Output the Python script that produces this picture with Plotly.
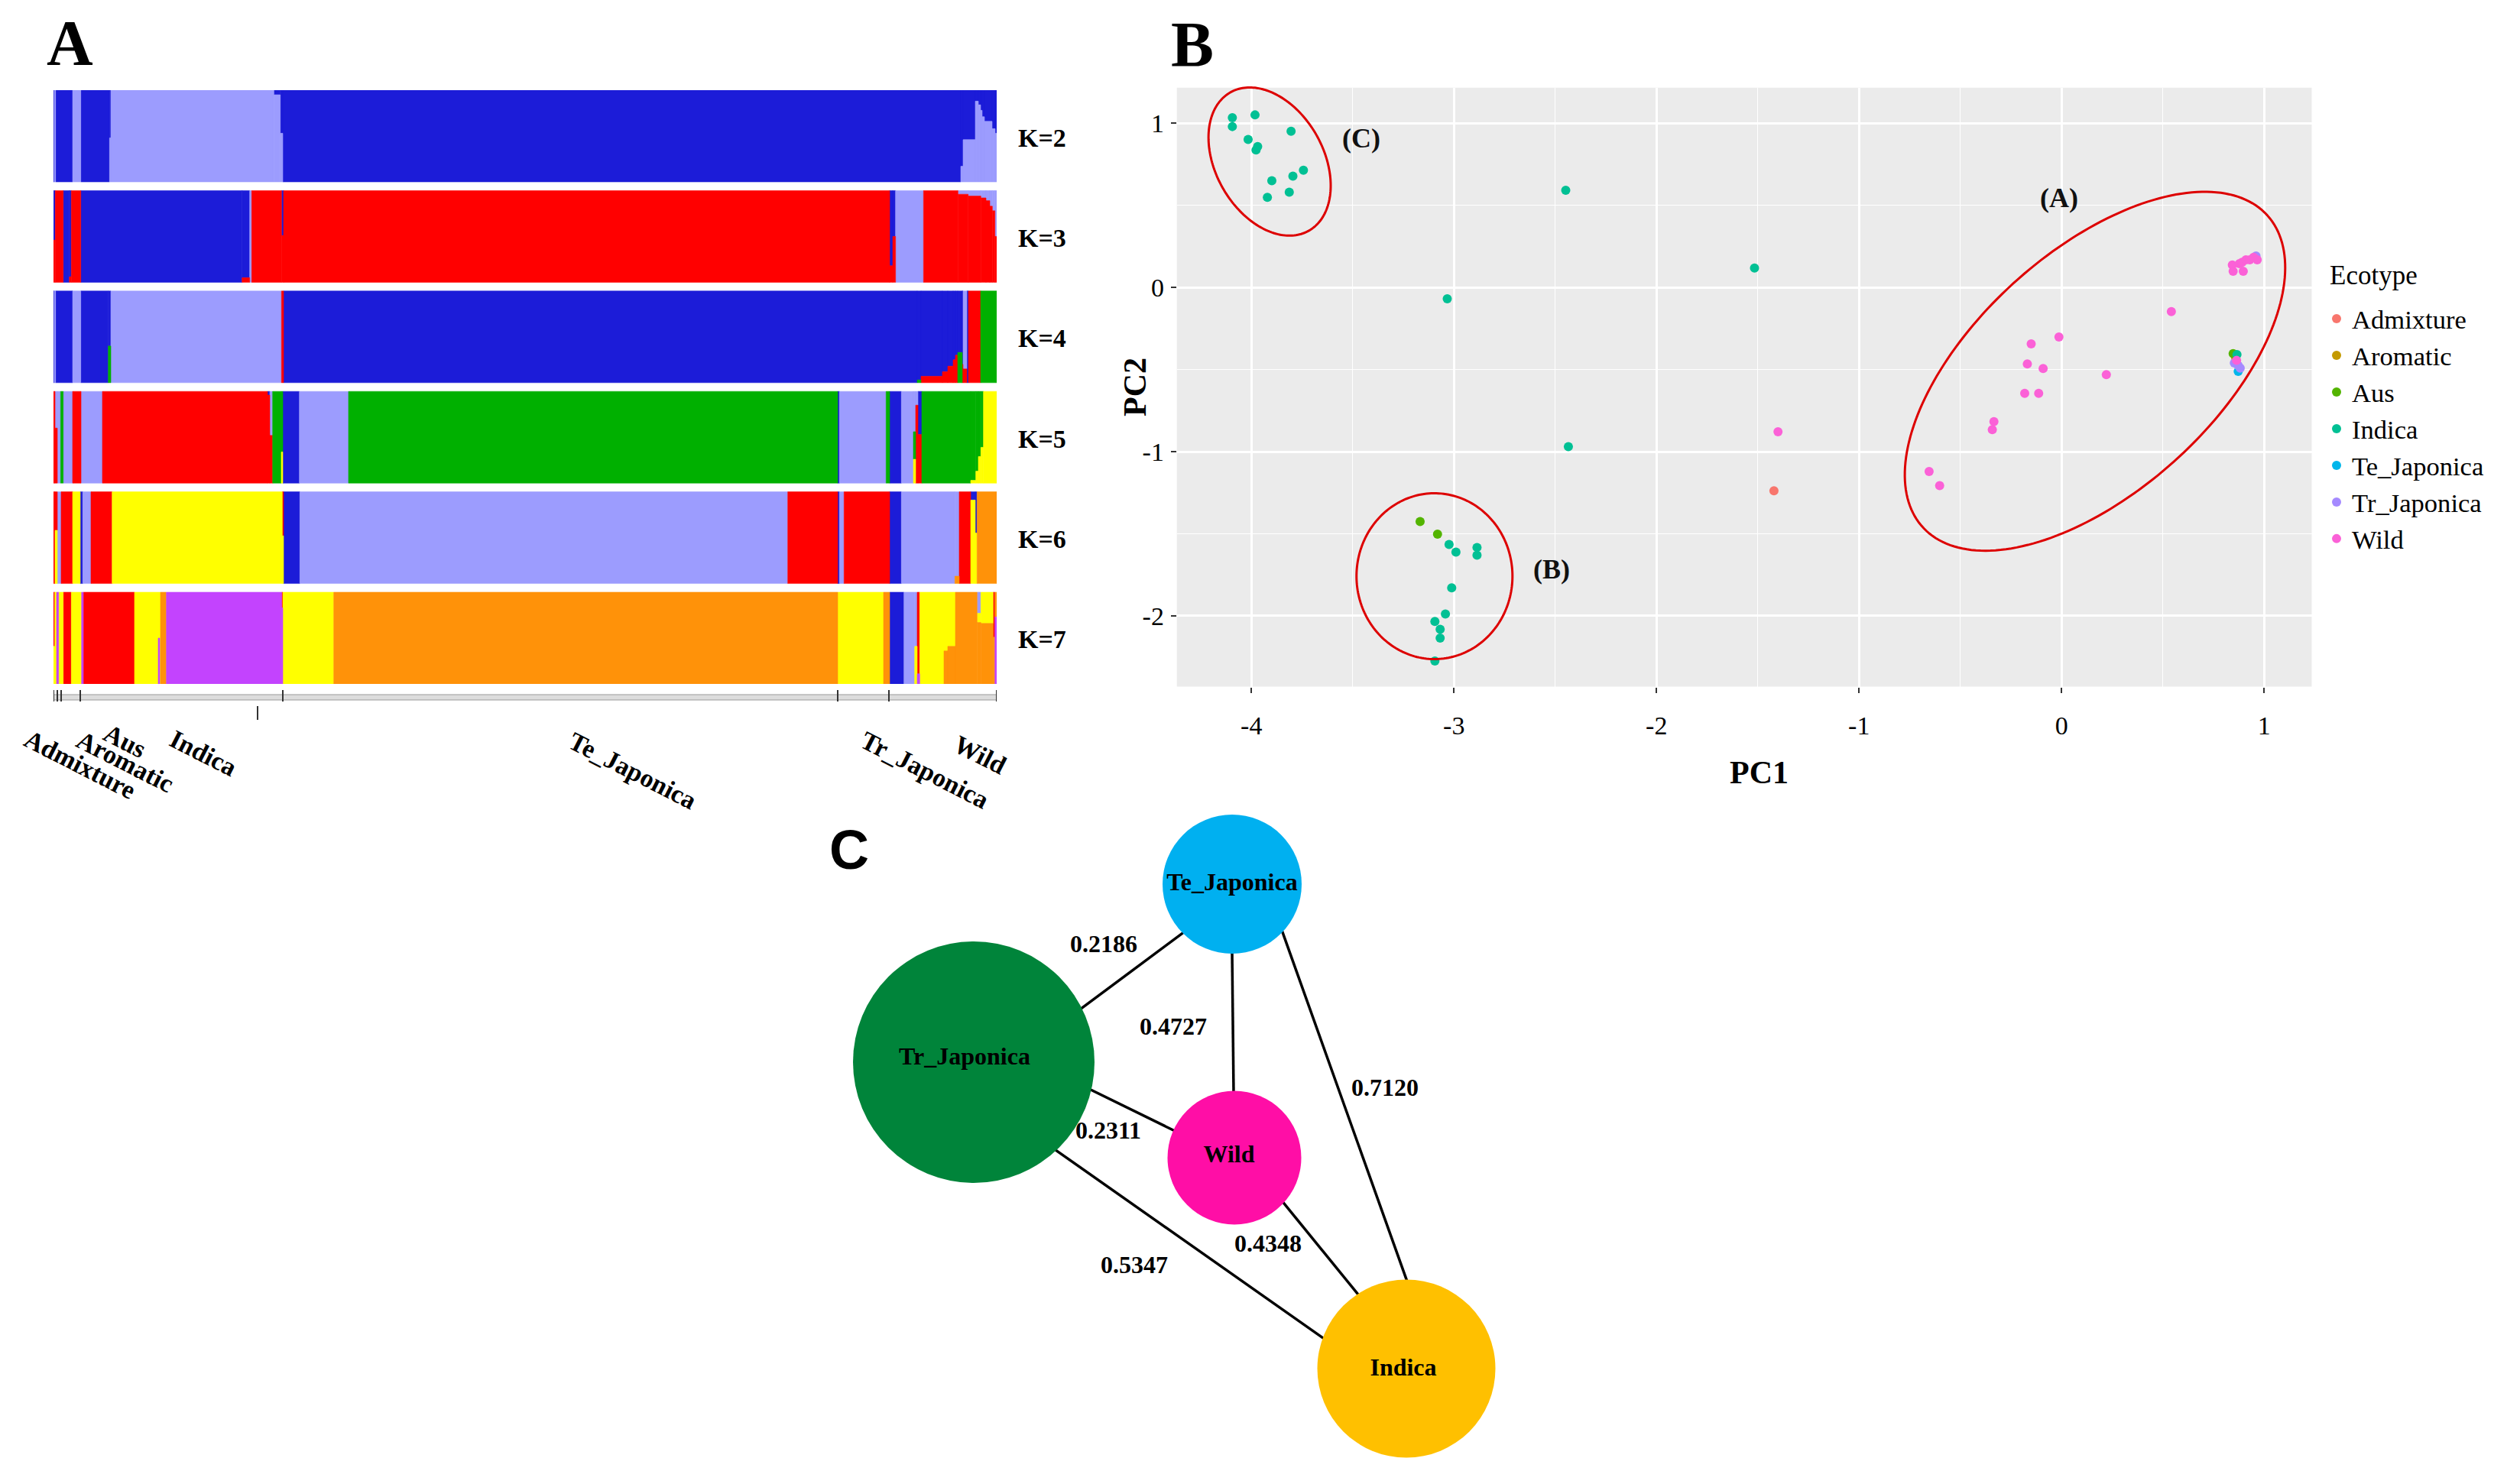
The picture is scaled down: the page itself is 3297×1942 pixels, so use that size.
import numpy as np
import plotly.graph_objects as go

W, H = 3297, 1942
SERIF = "Liberation Serif"
SANS = "Liberation Sans"


def px(x):
    return x / W


def py(y):
    return 1 - y / H


# ---------------- Panel A : ancestry proportions (STRUCTURE) ----------------
ANC_COLORS = {"B": "#1C1CD8", "L": "#9C9CFE", "R": "#FF0000", "G": "#00B000",
              "Y": "#FFFF00", "O": "#FF9209", "P": "#C343FE"}
K_LABELS = ["K=2", "K=3", "K=4", "K=5", "K=6", "K=7"]
GROUP_NAMES = ["Admixture", "Aromatic", "Aus", "Indica", "Te_Japonica", "Tr_Japonica", "Wild"]
GROUP_BOUNDS = [0, 5, 10, 35, 300, 1026, 1093, 1234]   # sample-order positions
EXTRA_TICK = [267]

# segments: (start, end, ((ancestry, proportion) top -> bottom))
ROW_K2 = [
    (0, 1, (("B", 1),)), (1, 2.7, (("L", 1),)), (2.7, 25, (("B", 1),)),
    (25, 35.7, (("L", 1),)), (35.7, 73.3, (("B", 1),)), (73.3, 75, (("B", .52), ("L", .48))),
    (75, 288.3, (("L", 1),)), (288.3, 296.7, (("B", .05), ("L", .95))),
    (296.7, 300, (("B", .47), ("L", .53))), (300, 1187, (("B", 1),)),
    (1187, 1190, (("B", .83), ("L", .17))), (1190, 1206, (("B", .54), ("L", .46))),
    (1206, 1210, (("B", .12), ("L", .88))), (1210, 1213, (("B", .16), ("L", .84))),
    (1213, 1215, (("B", .22), ("L", .78))), (1215, 1218, (("B", .29), ("L", .71))),
    (1218, 1228, (("B", .34), ("L", .66))), (1228, 1232, (("B", .42), ("L", .58))),
    (1232, 1234, (("B", .47), ("L", .53))),
]
ROW_K3 = [
    (0, 2.3, (("B", .54), ("R", .46))), (2.3, 12.7, (("R", 1),)), (12.7, 20.7, (("B", 1),)),
    (20.7, 23.3, (("B", .94), ("R", .06))), (23.3, 35.7, (("R", 1),)),
    (35.7, 246.7, (("B", 1),)), (246.7, 256.7, (("B", .95), ("R", .05))),
    (256.7, 259.3, (("L", 1),)), (259.3, 298.3, (("R", 1),)),
    (298.3, 301, (("B", .49), ("R", .51))), (301, 1094, (("R", 1),)),
    (1094, 1098, (("B", .82), ("R", .18))), (1098, 1101.7, (("B", .5), ("R", .5))),
    (1101.7, 1138.3, (("L", 1),)), (1138.3, 1183.3, (("R", 1),)),
    (1183.3, 1196.7, (("L", .04), ("R", .96))), (1196.7, 1213.3, (("L", .06), ("R", .94))),
    (1213.3, 1220, (("L", .08), ("R", .92))), (1220, 1225, (("L", .11), ("R", .89))),
    (1225, 1228.3, (("L", .17), ("R", .83))), (1228.3, 1231.7, (("L", .22), ("R", .78))),
    (1231.7, 1234, (("L", .5), ("R", .5))),
]
ROW_K4 = [
    (0, 1, (("B", 1),)), (1, 2.7, (("L", 1),)), (2.7, 25, (("B", 1),)),
    (25, 35.7, (("L", 1),)), (35.7, 71.7, (("B", 1),)), (71.7, 75, (("B", .6), ("G", .4))),
    (75, 298.3, (("L", 1),)), (298.3, 301, (("R", 1),)), (301, 1130, (("B", 1),)),
    (1130, 1135, (("B", .97), ("G", .03))), (1135, 1163, (("B", .93), ("R", .07))),
    (1163, 1170, (("B", .88), ("R", .12))), (1170, 1177, (("B", .82), ("R", .18))),
    (1177, 1180, (("B", .75), ("R", .25))), (1180, 1183, (("B", .7), ("R", .3))),
    (1183, 1189, (("B", .67), ("G", .33))), (1189, 1190, (("B", .8), ("R", .2))),
    (1190, 1195, (("L", .85), ("R", .15))), (1195, 1197, (("B", 1),)),
    (1197, 1213, (("R", 1),)), (1213, 1234, (("G", 1),)),
]
ROW_K5 = [
    (0, 2, (("R", 1),)), (2, 5, (("L", .4), ("R", .6))), (5, 9.3, (("L", 1),)),
    (9.3, 12.7, (("G", 1),)), (12.7, 25, (("L", 1),)), (25, 36, (("R", 1),)),
    (36, 64, (("L", 1),)), (64, 280, (("R", 1),)), (280, 283, (("B", .04), ("R", .96))),
    (283, 286.7, (("L", .48), ("R", .52))), (286.7, 298, (("G", 1),)),
    (298, 300, (("G", .66), ("Y", .34))), (300, 321.7, (("B", 1),)),
    (321.7, 386, (("L", 1),)), (386, 1026, (("G", 1),)), (1026, 1028.3, (("B", 1),)),
    (1028.3, 1089.3, (("L", 1),)), (1089.3, 1094, (("G", 1),)), (1094, 1109.3, (("B", 1),)),
    (1109.3, 1125, (("L", 1),)), (1125, 1128, (("L", .44), ("G", .3), ("Y", .26))),
    (1128, 1131, (("L", .15), ("R", .85))), (1131, 1136, (("B", .47), ("R", .53))),
    (1136, 1200, (("G", 1),)), (1200, 1206.7, (("G", .97), ("Y", .03))),
    (1206.7, 1210, (("G", .87), ("Y", .13))), (1210, 1213.3, (("G", .71), ("Y", .29))),
    (1213.3, 1216.7, (("G", .61), ("Y", .39))), (1216.7, 1234, (("Y", 1),)),
]
ROW_K6 = [
    (0, 2, (("R", 1),)), (2, 5, (("R", .42), ("Y", .58))), (5, 10, (("L", 1),)),
    (10, 25, (("R", 1),)), (25, 35, (("Y", 1),)), (35, 38.3, (("B", 1),)),
    (38.3, 49, (("L", 1),)), (49, 76.7, (("R", 1),)), (76.7, 299.3, (("Y", 1),)),
    (299.3, 301, (("R", .48), ("Y", .52))), (301, 322.3, (("B", 1),)),
    (322.3, 960.7, (("L", 1),)), (960.7, 1026, (("R", 1),)), (1026, 1028.3, (("B", 1),)),
    (1028.3, 1034.3, (("L", 1),)), (1034.3, 1094, (("R", 1),)), (1094, 1109.3, (("B", 1),)),
    (1109.3, 1179.3, (("L", 1),)), (1179.3, 1185, (("L", .92), ("O", .08))),
    (1185, 1200, (("R", 1),)), (1200, 1206, (("B", .09), ("Y", .91))),
    (1206, 1208.3, (("B", .45), ("Y", .55))), (1208.3, 1234, (("O", 1),)),
]
ROW_K7 = [
    (0, 1.7, (("R", .59), ("Y", .41))), (1.7, 4, (("Y", 1),)), (4, 6.7, (("P", 1),)),
    (6.7, 12.7, (("Y", 1),)), (12.7, 23.3, (("R", 1),)), (23.3, 36.7, (("Y", 1),)),
    (36.7, 39, (("P", 1),)), (39, 106, (("R", 1),)), (106, 137, (("Y", 1),)),
    (137, 139, (("Y", .5), ("P", .5))), (139, 140, (("Y", 1),)), (140, 147.7, (("O", 1),)),
    (147.7, 298.5, (("P", 1),)), (298.5, 300, (("R", .17), ("P", .83))),
    (300, 366.7, (("Y", 1),)), (366.7, 1026, (("O", 1),)), (1026, 1086, (("Y", 1),)),
    (1086, 1094, (("O", 1),)), (1094, 1112.7, (("B", 1),)), (1112.7, 1126.7, (("L", 1),)),
    (1126.7, 1130, (("L", .59), ("Y", .41))), (1130, 1133.3, (("R", .89), ("P", .11))),
    (1133.3, 1165, (("Y", 1),)), (1165, 1170, (("Y", .64), ("O", .36))),
    (1170, 1180, (("Y", .59), ("O", .41))), (1180, 1208.3, (("O", 1),)),
    (1208.3, 1213.3, (("L", .23), ("Y", .1), ("O", .67))),
    (1213.3, 1229.3, (("Y", .34), ("O", .66))), (1229.3, 1231.7, (("R", .49), ("O", .51))),
    (1231.7, 1234, (("O", .27), ("P", .73))),
]
STRUCTURE_ROWS = [ROW_K2, ROW_K3, ROW_K4, ROW_K5, ROW_K6, ROW_K7]

# ---------------- Panel B : PCA ----------------
ECOTYPES = ["Admixture", "Aromatic", "Aus", "Indica", "Te_Japonica", "Tr_Japonica", "Wild"]
ECO_COLORS = ["#F8766D", "#C49A00", "#53B400", "#00C094", "#00B6EB", "#A58AFF", "#FB61D7"]
PC1 = {
    "Admixture": [-1.42],
    "Aromatic": [0.86],
    "Aus": [-3.167, -3.081, 0.847],
    "Indica": [-4.094, -4.094, -3.982, -3.804, -4.016, -3.969, -3.977, -3.743, -3.795,
               -3.899, -3.813, -3.921, -2.448, -1.516, -3.033, -2.435, -3.024, -2.99,
               -2.886, -2.886, -3.011, -3.042, -3.094, -3.068, -3.068, -3.094, 0.866],
    "Te_Japonica": [0.872],
    "Tr_Japonica": [0.853, 0.872, 0.882, 0.96],
    "Wild": [0.843, 0.847, 0.878, 0.891, 0.897, 0.910, 0.929, 0.948, 0.966, 0.542,
             -0.013, -0.15, -0.169, -0.091, 0.221, -0.182, -0.113, -0.334, -0.342,
             -1.40, -0.654, -0.602, 0.864],
}
PC2 = {
    "Admixture": [-1.238],
    "Aromatic": [-0.43],
    "Aus": [-1.425, -1.502, -0.403],
    "Indica": [1.034, 0.98, 1.051, 0.951, 0.902, 0.858, 0.837, 0.714, 0.678,
               0.65, 0.58, 0.549, 0.592, 0.118, -0.069, -0.969, -1.565, -1.611,
               -1.583, -1.63, -1.829, -1.988, -2.034, -2.081, -2.135, -2.275, -0.409],
    "Te_Japonica": [-0.511],
    "Tr_Japonica": [-0.46, -0.475, -0.491, 0.192],
    "Wild": [0.137, 0.099, 0.145, 0.153, 0.099, 0.168, 0.168, 0.184, 0.168, -0.147,
             -0.302, -0.343, -0.466, -0.493, -0.531, -0.645, -0.645, -0.817, -0.866,
             -0.879, -1.121, -1.207, -0.444],
}
PCA_XTICKS = [-4, -3, -2, -1, 0, 1]
PCA_YTICKS = [-2, -1, 0, 1]
# cluster ellipses: label, centre, two conjugate semi-axis vectors (PC units), label position
CLUSTER_NAMES = ["(A)", "(B)", "(C)"]
CLUSTER_CENTER = [(0.165, -0.51), (-3.096, -1.758), (-3.91, 0.767)]
CLUSTER_U = [(0.851, 0.949), (0.385, 0.0), (0.194, -0.421)]
CLUSTER_V = [(-0.397, 0.542), (0.0, 0.505), (0.231, 0.162)]
CLUSTER_LABEL_POS = [(-0.013, 0.547), (-2.517, -1.715), (-3.458, 0.907)]

# ---------------- Panel C : Fst network ----------------
NODE_NAMES = ["Te_Japonica", "Tr_Japonica", "Wild", "Indica"]
NODE_COLORS = ["#00B0F0", "#00843A", "#FF0EA6", "#FFC000"]
NODE_X = [1612, 1274, 1615, 1840]
NODE_Y = [1157, 1390, 1515, 1791]
NODE_DIAM = [182, 316, 175, 233]
NODE_LABEL_X = [1612, 1262, 1608, 1836]
NODE_LABEL_Y = [1157, 1385, 1513, 1792]
EDGE_FST = ["0.2186", "0.4727", "0.7120", "0.2311", "0.5347", "0.4348"]
EDGE_X0 = [1546, 1612, 1678, 1425, 1384, 1680]
EDGE_Y0 = [1222, 1246, 1220, 1425, 1507, 1575]
EDGE_X1 = [1413, 1614, 1840, 1533, 1731, 1777]
EDGE_Y1 = [1321, 1430, 1674, 1478, 1751, 1694]
EDGE_LABEL_X = [1444, 1535, 1812, 1450, 1484, 1659]
EDGE_LABEL_Y = [1238, 1346, 1426, 1482, 1658, 1630]

# ================= geometry of the page =================
A_X0, A_X1, A_Y0, A_Y1 = 70, 1304, 118, 895
ROW_PITCH = 1.095
B_X0, B_X1, B_Y0, B_Y1 = 1539.7, 3024.5, 114.7, 898.6
B_XR, B_YR = [-4.368, 1.235], [-2.431, 1.217]
C_X0, C_X1, C_Y0, C_Y1 = 1000, 2100, 1050, 1942

fig = go.Figure()

# ---- Panel A bars ----
for r, segs in enumerate(STRUCTURE_ROWS):
    top = r * ROW_PITCH
    acc = {k: {"x": [], "w": [], "b": [], "h": []} for k in ANC_COLORS}
    for (s, e, comp) in segs:
        cum = 0.0
        for k, f in comp:
            acc[k]["x"].append((s + e) / 2)
            acc[k]["w"].append(e - s)
            acc[k]["b"].append(top + cum)
            acc[k]["h"].append(f)
            cum += f
    for k, d in acc.items():
        if not d["x"]:
            continue
        fig.add_trace(go.Bar(x=d["x"], y=d["h"], base=d["b"], width=d["w"],
                             marker=dict(color=ANC_COLORS[k], line=dict(color=ANC_COLORS[k], width=0.6)),
                             showlegend=False, hoverinfo="skip", xaxis="x", yaxis="y"))

# ---- Panel B points ----
for name, col in zip(ECOTYPES, ECO_COLORS):
    fig.add_trace(go.Scatter(x=PC1[name], y=PC2[name], mode="markers", name=name,
                             marker=dict(size=12, color=col, line=dict(width=0)),
                             xaxis="x2", yaxis="y2", hoverinfo="skip"))

# ---- Panel C network ----
ex, ey = [], []
for x0, y0, x1, y1 in zip(EDGE_X0, EDGE_Y0, EDGE_X1, EDGE_Y1):
    d = np.hypot(x1 - x0, y1 - y0)
    ux, uy = (x1 - x0) / d, (y1 - y0) / d
    ex += [x0 - 12 * ux, x1 + 12 * ux, None]
    ey += [y0 - 12 * uy, y1 + 12 * uy, None]
fig.add_trace(go.Scatter(x=ex, y=ey, mode="lines", line=dict(color="black", width=3.5),
                         showlegend=False, hoverinfo="skip", xaxis="x3", yaxis="y3"))
fig.add_trace(go.Scatter(x=NODE_X, y=NODE_Y, mode="markers",
                         marker=dict(size=NODE_DIAM, color=NODE_COLORS, line=dict(width=0), opacity=1),
                         showlegend=False, hoverinfo="skip", xaxis="x3", yaxis="y3"))
fig.add_trace(go.Scatter(x=NODE_LABEL_X, y=NODE_LABEL_Y, mode="text", text=NODE_NAMES,
                         textposition="middle center",
                         textfont=dict(family=SERIF, size=32, color="black", weight="bold"),
                         showlegend=False, hoverinfo="skip", xaxis="x3", yaxis="y3"))
fig.add_trace(go.Scatter(x=EDGE_LABEL_X, y=EDGE_LABEL_Y, mode="text", text=EDGE_FST,
                         textfont=dict(family=SERIF, size=32, color="black", weight="bold"),
                         showlegend=False, hoverinfo="skip", xaxis="x3", yaxis="y3"))

shapes = []
annotations = []


def note(x, y, text, size, family=SERIF, bold=True, angle=0, xanchor="center", color="black"):
    annotations.append(dict(x=px(x), y=py(y), xref="paper", yref="paper", text=text,
                            showarrow=False, textangle=angle, xanchor=xanchor, yanchor="middle",
                            font=dict(family=family, size=size, color=color,
                                      weight="bold" if bold else "normal")))


# PCA panel background
shapes.append(dict(type="rect", xref="x2 domain", yref="y2 domain", x0=0, x1=1, y0=0, y1=1,
                   fillcolor="#EBEBEB", line=dict(width=0), layer="below"))


def pca_to_paper(x, y):
    fx = B_X0 + (x - B_XR[0]) / (B_XR[1] - B_XR[0]) * (B_X1 - B_X0)
    fy = B_Y1 - (y - B_YR[0]) / (B_YR[1] - B_YR[0]) * (B_Y1 - B_Y0)
    return px(fx), py(fy)


t = np.linspace(0, 2 * np.pi, 200)
for (cx, cy), (ux, uy), (vx, vy) in zip(CLUSTER_CENTER, CLUSTER_U, CLUSTER_V):
    xs = cx + ux * np.cos(t) + vx * np.sin(t)
    ys = cy + uy * np.cos(t) + vy * np.sin(t)
    pts = [pca_to_paper(a, b) for a, b in zip(xs, ys)]
    path = "M " + " L ".join(f"{a:.6f},{b:.6f}" for a, b in pts) + " Z"
    shapes.append(dict(type="path", xref="paper", yref="paper", path=path,
                       line=dict(color="#DD0000", width=3), layer="above"))
for name, (lx, ly) in zip(CLUSTER_NAMES, CLUSTER_LABEL_POS):
    annotations.append(dict(x=lx, y=ly, xref="x2", yref="y2", text=name, showarrow=False,
                            xanchor="center", yanchor="middle",
                            font=dict(family=SERIF, size=36, color="#111111", weight="bold")))

# Panel A group axis
shapes.append(dict(type="rect", xref="x", yref="paper", x0=GROUP_BOUNDS[0], x1=GROUP_BOUNDS[-1],
                   y0=py(916), y1=py(909), fillcolor="#DCDCDC", line=dict(color="#9A9A9A", width=1.2)))
for b in GROUP_BOUNDS:
    shapes.append(dict(type="line", xref="x", yref="paper", x0=b, x1=b, y0=py(903), y1=py(918),
                       line=dict(color="#333333", width=2)))
for b in EXTRA_TICK:
    shapes.append(dict(type="line", xref="x", yref="paper", x0=b, x1=b, y0=py(924), y1=py(942),
                       line=dict(color="#333333", width=2)))

GROUP_LABEL_XY = [(105, 1000), (163, 997), (163, 970), (266, 985), (828, 1008), (1210, 1007), (1282, 987)]
for name, (gx, gy) in zip(GROUP_NAMES, GROUP_LABEL_XY):
    note(gx, gy, name, 34, angle=27)

for r, lab in enumerate(K_LABELS):
    yc = A_Y0 + (r * ROW_PITCH + 0.5) * (A_Y1 - A_Y0) / (5 * ROW_PITCH + 1) + 2
    note(1330, yc, lab, 34, xanchor="left")

# panel letters
note(91, 57, "A", 84)
note(1560, 58, "B", 84)
note(1111, 1112, "C", 72, family=SANS)

# PCA axis titles and legend title
note(2301, 1011, "PC1", 42)
note(1485, 507, "PC2", 42, angle=-90)
note(3046, 360, "Ecotype", 35, bold=False, xanchor="left")

tickfont = dict(family=SERIF, size=34, color="black")
fig.update_layout(
    width=W, height=H, autosize=False, margin=dict(l=0, r=0, t=0, b=0),
    paper_bgcolor="white", plot_bgcolor="white", barmode="overlay", hovermode=False,
    xaxis=dict(domain=[px(A_X0), px(A_X1)], range=[0, GROUP_BOUNDS[-1]], visible=False,
               anchor="y", fixedrange=True),
    yaxis=dict(domain=[py(A_Y1), py(A_Y0)], range=[5 * ROW_PITCH + 1, 0], visible=False,
               anchor="x", fixedrange=True),
    xaxis2=dict(domain=[px(B_X0), px(B_X1)], range=B_XR, anchor="y2",
                tickmode="array", tickvals=PCA_XTICKS, ticktext=[str(v) for v in PCA_XTICKS],
                showgrid=True, gridcolor="white", gridwidth=2.6, zeroline=False, showline=False,
                ticks="outside", ticklen=7, tickwidth=2, tickcolor="#333333",
                tickfont=tickfont, ticklabelstandoff=14,
                minor=dict(tickmode="linear", tick0=0.5, dtick=1, showgrid=True,
                           gridcolor="white", gridwidth=1.2, ticks="")),
    yaxis2=dict(domain=[py(B_Y1), py(B_Y0)], range=B_YR, anchor="x2",
                tickmode="array", tickvals=PCA_YTICKS, ticktext=[str(v) for v in PCA_YTICKS],
                showgrid=True, gridcolor="white", gridwidth=2.6, zeroline=False, showline=False,
                ticks="outside", ticklen=7, tickwidth=2, tickcolor="#333333",
                tickfont=tickfont, ticklabelstandoff=2,
                minor=dict(tickmode="linear", tick0=0.5, dtick=1, showgrid=True,
                           gridcolor="white", gridwidth=1.2, ticks="")),
    xaxis3=dict(domain=[px(C_X0), px(C_X1)], range=[C_X0, C_X1], visible=False, anchor="y3"),
    yaxis3=dict(domain=[py(C_Y1), py(C_Y0)], range=[C_Y1, C_Y0], visible=False, anchor="x3"),
    legend=dict(x=px(3037), y=py(388), xanchor="left", yanchor="top",
                font=dict(family=SERIF, size=34.6, color="black"), bgcolor="rgba(0,0,0,0)",
                borderwidth=0, tracegroupgap=0),
    shapes=shapes, annotations=annotations,
)

fig.write_html("out.html", config={"displayModeBar": False},
               post_script="document.body.style.margin='0';document.body.style.overflow='hidden';")
